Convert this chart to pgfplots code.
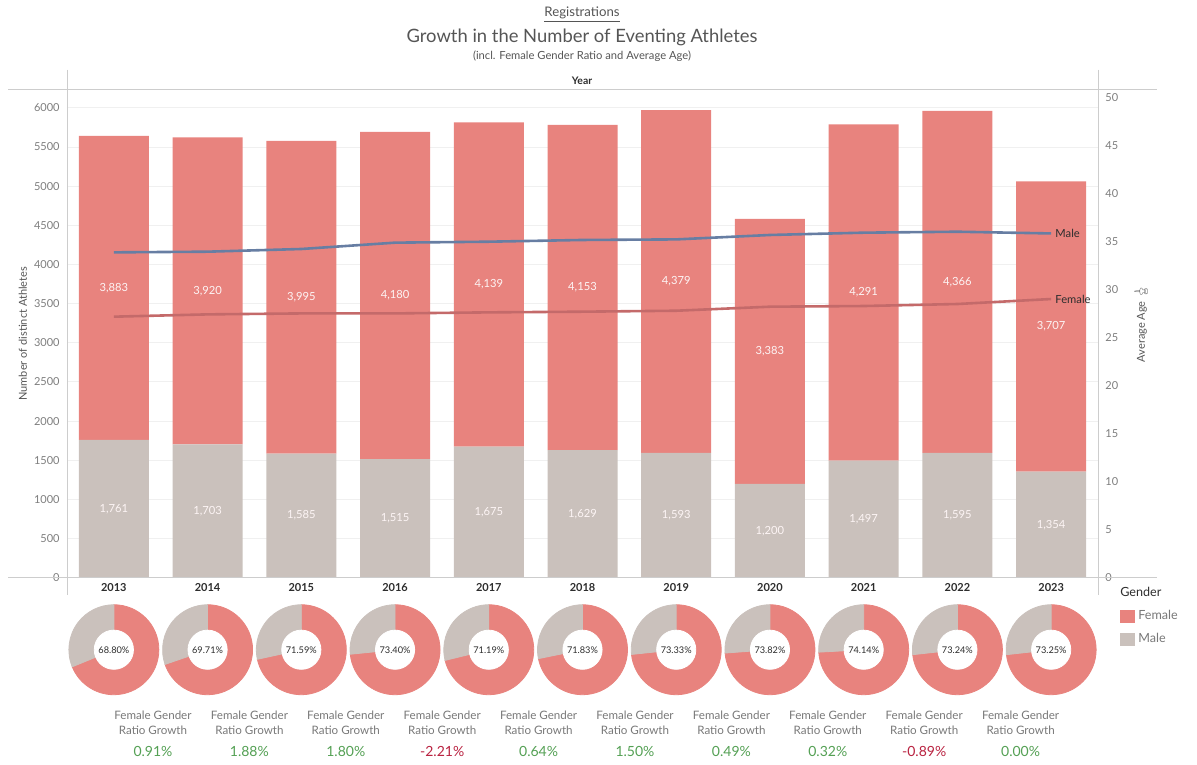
\documentclass[border=0pt]{standalone}
\usepackage{pgfplots}
\pgfplotsset{compat=1.18}
\usepackage{pgfplotstable}
\usepackage{fontspec}
\setmainfont{Lato}
\newfontfamily\emojifont{Noto Emoji}

\definecolor{femc}{RGB}{232,131,126}
\definecolor{malec}{RGB}{202,193,188}
\definecolor{malel}{RGB}{103,126,163}
\definecolor{feml}{RGB}{196,106,106}
\definecolor{framec}{RGB}{205,205,205}
\definecolor{gridc}{RGB}{240,240,240}
\definecolor{tickc}{RGB}{125,125,125}
\definecolor{titlec}{RGB}{85,85,85}
\definecolor{darkc}{RGB}{45,45,45}
\definecolor{labc}{RGB}{120,120,120}
\definecolor{posc}{RGB}{84,160,84}
\definecolor{negc}{RGB}{185,35,65}

\pgfplotsset{/pgf/number format/assume math mode=true, /pgf/number format/1000 sep={}}

% registrations per year
\pgfplotstableread{
x year male female mlab flab
0 2013 1761 3883 1,761 3,883
1 2014 1703 3920 1,703 3,920
2 2015 1585 3995 1,585 3,995
3 2016 1515 4180 1,515 4,180
4 2017 1675 4139 1,675 4,139
5 2018 1629 4153 1,629 4,153
6 2019 1593 4379 1,593 4,379
7 2020 1200 3383 1,200 3,383
8 2021 1497 4291 1,497 4,291
9 2022 1595 4366 1,595 4,366
10 2023 1354 3707 1,354 3,707
}\bars

% average age
\pgfplotstableread{
x male female
0 33.89 27.19
1 33.96 27.43
2 34.24 27.53
3 34.90 27.53
4 35.00 27.64
5 35.18 27.71
6 35.24 27.81
7 35.70 28.23
8 35.94 28.30
9 36.04 28.51
10 35.86 29.03
}\ages

% female share
\pgfplotstableread{
x f lab y
0 68.80 68.80\% 0.5
1 69.71 69.71\% 0.5
2 71.59 71.59\% 0.5
3 73.40 73.40\% 0.5
4 71.19 71.19\% 0.5
5 71.83 71.83\% 0.5
6 73.33 73.33\% 0.5
7 73.82 73.82\% 0.5
8 74.14 74.14\% 0.5
9 73.24 73.24\% 0.5
10 73.25 73.25\% 0.5
}\donuts

% female gender ratio growth
\pgfplotstableread{
k lab ty vy
1 0.91\% 0.642 0.167
2 1.88\% 0.642 0.167
3 1.80\% 0.642 0.167
5 0.64\% 0.642 0.167
6 1.50\% 0.642 0.167
7 0.49\% 0.642 0.167
8 0.32\% 0.642 0.167
10 0.00\% 0.642 0.167
}\growthpos
\pgfplotstableread{
k lab ty vy
4 -2.21\% 0.642 0.167
9 -0.89\% 0.642 0.167
}\growthneg

\begin{document}
\begin{tikzpicture}[font=\fontsize{5.5pt}{6.6pt}\selectfont]
\path (0,0) rectangle (598.5pt,-381.5pt);

\node[text=titlec, font=\fontsize{6.6pt}{8pt}\selectfont] at (291pt,-6.5pt) {\underline{Registrations}};
\node[text=titlec, font=\fontsize{9.2pt}{11pt}\selectfont] at (291pt,-17.8pt) {Growth in the Number of Eventing Athletes};
\node[text=titlec, font=\fontsize{5.6pt}{7pt}\selectfont] at (291pt,-27pt) {(incl. Female Gender Ratio and Average Age)};
\node[text=darkc, font=\bfseries\fontsize{5.2pt}{6pt}\selectfont] at (291pt,-39.5pt) {Year};

% bars
\begin{axis}[
  at={(33.5pt,-288pt)}, anchor=south west, scale only axis,
  width=515.5pt, height=244pt,
  xmin=-0.5, xmax=10.5, ymin=0, ymax=6232,
  ybar stacked, bar width=35pt,
  xtick={0,...,10},
  xticklabels={2013,2014,2015,2016,2017,2018,2019,2020,2021,2022,2023},
  ytick={0,500,...,6000},
  ymajorgrids, grid style={draw=gridc, line width=0.5pt},
  axis line style={draw=none}, major tick length=0pt,
  xticklabel style={font=\bfseries\fontsize{5.5pt}{6.6pt}\selectfont, text=darkc, inner sep=0pt, yshift=-2.6pt},
  yticklabel style={font=\fontsize{5.5pt}{6.6pt}\selectfont, text=tickc, inner sep=0pt, xshift=-3.5pt},
  ylabel={Number of distinct Athletes},
  ylabel style={at={(axis description cs:-0.0427,0.5)}, anchor=center, text=titlec, font=\fontsize{5.5pt}{6.6pt}\selectfont},
  legend style={draw=none, fill=none, at={(1.0205,-0.0104)}, anchor=north west, inner sep=0pt,
    font=\fontsize{6.3pt}{7.5pt}\selectfont, text=labc, row sep=1.3pt,
    /tikz/every even column/.append style={column sep=2pt}},
  legend cell align=left,
]
\addplot[fill=malec, draw=none, forget plot] table[x=x, y=male]{\bars};
\addplot[fill=femc, draw=none, forget plot] table[x=x, y=female]{\bars};
\addlegendimage{empty legend}
\addlegendentry{\hspace*{-9pt}\textcolor{darkc}{Gender}}
\addlegendimage{legend image code/.code={\fill[femc] (0pt,-3pt) rectangle (7pt,2.8pt);}}
\addlegendentry{Female}
\addlegendimage{legend image code/.code={\fill[malec] (0pt,-3pt) rectangle (7pt,2.8pt);}}
\addlegendentry{Male}
\end{axis}

% bar value labels
\begin{axis}[
  at={(33.5pt,-288pt)}, anchor=south west, scale only axis,
  width=515.5pt, height=244pt,
  xmin=-0.5, xmax=10.5, ymin=0, ymax=6232, hide axis,
  every node near coord/.append style={anchor=center, text=white!92!femc, font=\fontsize{5.6pt}{6.6pt}\selectfont},
]
\addplot[draw=none, nodes near coords, point meta=explicit symbolic]
  table[x=x, y expr=\thisrow{male}/2, meta=mlab]{\bars};
\addplot[draw=none, nodes near coords, point meta=explicit symbolic]
  table[x=x, y expr=\thisrow{male}+\thisrow{female}/2, meta=flab]{\bars};
\end{axis}

% average age
\begin{axis}[
  at={(33.5pt,-288pt)}, anchor=south west, scale only axis,
  width=515.5pt, height=244pt,
  xmin=-0.5, xmax=10.5, ymin=0, ymax=50.83,
  hide x axis, axis y line*=right, axis line style={draw=none}, major tick length=0pt,
  ytick={0,5,...,50},
  yticklabel style={font=\fontsize{5.5pt}{6.6pt}\selectfont, text=tickc, inner sep=0pt, xshift=3.5pt},
]
\addplot[malel, line width=1.3pt] table[x=x, y=male]{\ages}
  node[pos=1, anchor=west, text=darkc, font=\fontsize{5.6pt}{6.6pt}\selectfont, inner sep=1.5pt] {Male};
\addplot[feml, line width=1.3pt] table[x=x, y=female]{\ages}
  node[pos=1, anchor=west, text=darkc, font=\fontsize{5.6pt}{6.6pt}\selectfont, inner sep=1.5pt] {Female};
\end{axis}

% donuts
\begin{axis}[
  at={(33.5pt,-349pt)}, anchor=south west, scale only axis,
  width=515.5pt, height=50pt,
  xmin=-0.5, xmax=10.5, ymin=0, ymax=1, hide axis, clip=false,
]
\addplot[scatter, only marks, mark=*, mark size=9.8pt,
  point meta=\thisrow{f},
  visualization depends on={\thisrow{f} \as \fval},
  scatter/@pre marker code/.code={%
    \pgfmathsetmacro\ang{90-3.6*\fval}%
    \fill[femc] (0pt,0pt) -- (90:22.5pt) arc[start angle=90, end angle=\ang, radius=22.5pt] -- cycle;
    \fill[malec] (0pt,0pt) -- (\ang:22.5pt) arc[start angle=\ang, end angle=-270, radius=22.5pt] -- cycle;
    \pgfsetfillcolor{white}\pgfsetstrokecolor{white}%
  },
  scatter/@post marker code/.code={},
] table[x=x, y=y]{\donuts};
\addplot[draw=none, nodes near coords, point meta=explicit symbolic,
  every node near coord/.append style={anchor=center, text=darkc, font=\fontsize{4.6pt}{5.5pt}\selectfont},
] table[x=x, y=y, meta=lab]{\donuts};
\end{axis}

% growth texts
\begin{axis}[
  at={(33.5pt,-380pt)}, anchor=south west, scale only axis,
  width=515.5pt, height=30pt,
  xmin=0.108, xmax=10.803, ymin=0, ymax=1, hide axis, clip=false,
]
\addplot[draw=none, nodes near coords={Female Gender\\Ratio Growth},
  every node near coord/.append style={anchor=center, align=center, text=labc, font=\fontsize{5.8pt}{7.5pt}\selectfont}]
  table[x=k, y=ty]{\growthpos};
\addplot[draw=none, nodes near coords={Female Gender\\Ratio Growth},
  every node near coord/.append style={anchor=center, align=center, text=labc, font=\fontsize{5.8pt}{7.5pt}\selectfont}]
  table[x=k, y=ty]{\growthneg};
\addplot[draw=none, nodes near coords, point meta=explicit symbolic,
  every node near coord/.append style={anchor=center, text=posc, font=\fontsize{7pt}{8pt}\selectfont}]
  table[x=k, y=vy, meta=lab]{\growthpos};
\addplot[draw=none, nodes near coords, point meta=explicit symbolic,
  every node near coord/.append style={anchor=center, text=negc, font=\fontsize{7pt}{8pt}\selectfont}]
  table[x=k, y=vy, meta=lab]{\growthneg};
\end{axis}

% frame
\draw[framec, line width=0.5pt] (4pt,-44pt) -- (578.5pt,-44pt);
\draw[framec, line width=0.5pt] (4pt,-288pt) -- (578.5pt,-288pt);
\draw[framec, line width=0.5pt] (33.5pt,-34pt) -- (33.5pt,-296.5pt);
\draw[framec, line width=0.5pt] (549pt,-34pt) -- (549pt,-296.5pt);

\node[rotate=90, text=titlec, font=\fontsize{5.5pt}{6.6pt}\selectfont] at (571pt,-165pt) {Average Age};
\node[rotate=-45, text=titlec, font=\emojifont\fontsize{5.5pt}{6.5pt}\selectfont] at (571pt,-145pt) {📌};
\end{tikzpicture}
\end{document}
